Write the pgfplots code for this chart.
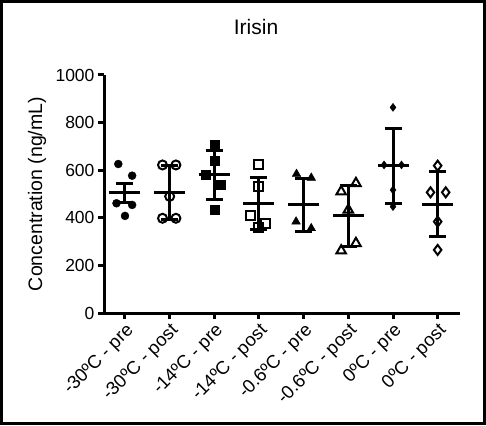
\documentclass[border=0pt]{standalone}
\usepackage{fontspec}
\setmainfont{Liberation Sans}
\usepackage{pgfplots}
\pgfplotsset{compat=1.18}

\begin{document}
\begin{tikzpicture}
\useasboundingbox (0pt,0pt) rectangle (486pt,425pt);
\draw[line width=3pt] (1.5pt,1.5pt) rectangle (484.5pt,423.5pt);
\begin{axis}[
  at={(104pt,112pt)}, anchor=south west,
  scale only axis, width=356pt, height=238pt,
  xmin=-0.47, xmax=7.5, ymin=0, ymax=1000,
  axis lines=left,
  axis line style={-, line width=3pt},
  tick align=outside, major tick length=6pt,
  tick style={line width=3pt, black},
  xtick={0,...,7},
  xticklabels={-30ºC - pre,-30ºC - post,-14ºC - pre,-14ºC - post,-0.6ºC - pre,-0.6ºC - post,0ºC - pre,0ºC - post},
  x tick label style={rotate=45, anchor=north east, inner sep=2pt, font=\fontsize{18.5}{20}\selectfont},
  ytick={0,200,...,1000},
  /pgf/number format/assume math mode=true,
  /pgf/number format/1000 sep={},
  y tick label style={font=\fontsize{17.5}{20}\selectfont},
  ylabel={Concentration (ng/mL)},
  ylabel style={font=\fontsize{19.5}{22}\selectfont, at={(axis description cs:-0.188,0.5)}, anchor=center},
  title={Irisin},
  title style={font=\fontsize{21}{24}\selectfont, at={(axis description cs:0.427,1)}, anchor=center, yshift=42pt},
  clip=false,
]
% individual measurements per condition
\addplot[only marks, mark=*, mark size=4pt, black] coordinates {
  (-0.15,626) (0.16,577) (-0.19,461) (0.16,454) (0,408)};
\addplot[only marks, mark=o, mark size=4.5pt, black, mark options={line width=2pt, fill=white}] coordinates {
  (0.84,622) (1.14,622) (1,490) (0.84,398) (1.14,398)};
\addplot[only marks, mark=square*, mark size=4.5pt, black] coordinates {
  (2,706) (2,640) (1.81,580) (2.15,541) (2,433)};
\addplot[only marks, mark=square, mark size=4.5pt, black, mark options={line width=2pt, fill=white}] coordinates {
  (3,622) (3,531) (2.81,408) (3.15,377) (3,360)};
\addplot[only marks, mark=triangle*, mark size=5pt, black] coordinates {
  (3.84,584) (4.17,568) (3.83,384) (4.17,356)};
\addplot[only marks, mark=triangle, mark size=5.5pt, black, mark options={line width=2pt, fill=white}] coordinates {
  (5.17,545) (4.84,510) (5,433) (5.17,293) (4.84,262)};
\addplot[only marks, mark=diamond*, mark size=4pt, black] coordinates {
  (6,864) (5.8,622) (6.19,622) (6,517) (6,447)};
\addplot[only marks, mark=diamond, mark size=5pt, black, mark options={line width=2pt, fill=white}] coordinates {
  (7,619) (6.84,507) (7.18,507) (7,384) (7,265)};
% group mean with error bars
\addplot[only marks, mark=-, mark size=15.5pt, black, mark options={line width=3pt},
  error bars/.cd, y dir=both, y explicit,
  error bar style={line width=3pt, black},
  error mark options={rotate=90, mark size=8.5pt, line width=3pt, black}]
  coordinates {
  (0,505) +- (0,40)
  (1,506) +- (0,112)
  (2,580) +- (0,103)
  (3,459) +- (0,110)
  (4,454) +- (0,113)
  (5,408) +- (0,127)
  (6,618) +- (0,157)
  (7,457) +- (0,136)
};
\end{axis}
\end{tikzpicture}
\end{document}
